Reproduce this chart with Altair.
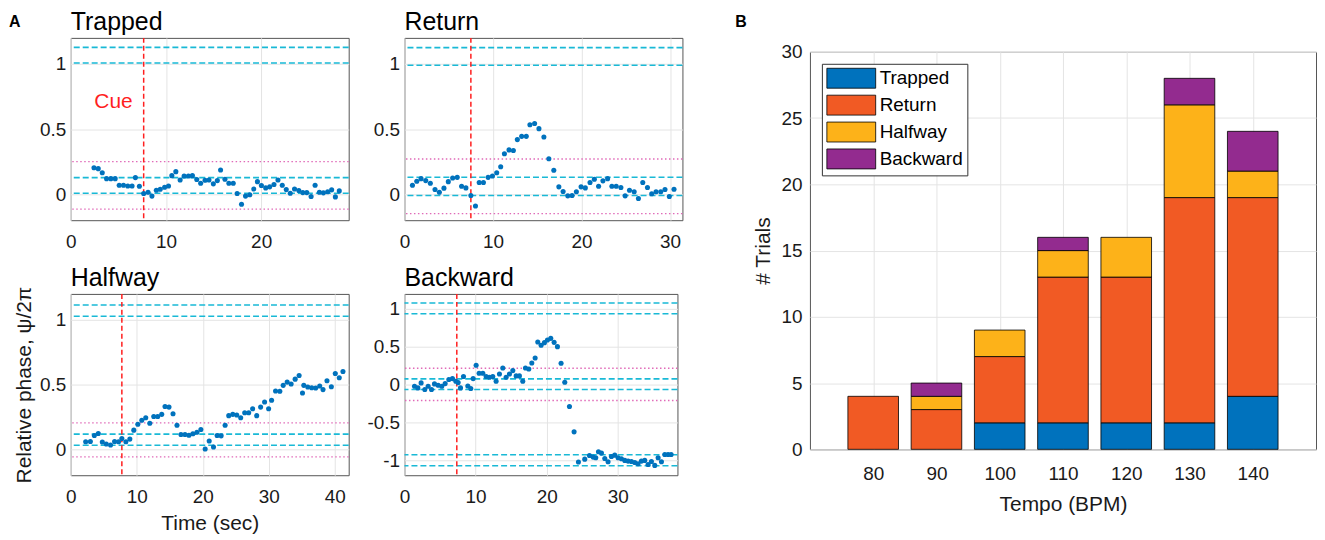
import altair as alt
import pandas as pd

FONT = "Liberation Sans"
BLUE = "#0072BD"
CYAN = "#19B9D6"
PINK = "#E06AB8"
RED = "#FF1F1F"
INK = "#1a1a1a"

# ---------------- Panel A data ----------------
trapped_t = [2.44, 2.89, 3.31, 3.76, 4.21, 4.67, 5.09, 5.54, 5.99, 6.44,
             6.79, 7.21, 7.66, 8.12, 8.53, 8.99, 9.40, 9.86, 10.27, 10.62,
             11.04, 11.49, 11.91, 12.36, 12.78, 13.24, 13.65, 14.11, 14.52, 14.98,
             15.40, 15.74, 16.20, 16.61, 17.07, 17.48, 17.94, 18.36, 18.81, 19.23,
             19.61, 20.03, 20.48, 20.90, 21.35, 21.77, 22.22, 22.64, 23.06, 23.51,
             23.96, 24.38, 24.80, 25.25, 25.67, 26.12, 26.54, 26.99, 27.41, 27.80,
             28.21]
trapped_p = [0.203, 0.196, 0.165, 0.119, 0.119, 0.119, 0.068, 0.068, 0.063, 0.063,
             0.127, 0.061, 0.005, 0.015, -0.015, 0.030, 0.038, 0.053, 0.063, 0.142,
             0.173, 0.109, 0.140, 0.140, 0.142, 0.112, 0.084, 0.107, 0.109, 0.079,
             0.104, 0.185, 0.114, 0.084, 0.084, 0.005, -0.077, -0.015, -0.005, 0.040,
             0.096, 0.066, 0.048, 0.056, 0.074, 0.109, 0.068, 0.035, 0.007, 0.040,
             0.028, 0.012, 0.012, -0.018, 0.068, 0.015, 0.010, 0.018, 0.033, -0.021,
             0.025]
trapped_cyan = [0.007, 0.127, 1.007, 1.127]
trapped_pink = [-0.115, 0.25]
trapped_cue = 7.66

return_t = [0.90, 1.39, 1.87, 2.40, 2.92, 3.45, 3.94, 4.46, 4.95, 5.44,
            5.96, 6.45, 6.94, 7.50, 8.02, 8.44, 8.92, 9.45, 9.94, 10.42,
            10.87, 11.29, 11.81, 12.30, 12.75, 13.24, 13.76, 14.17, 14.70, 15.19,
            15.75, 16.31, 16.87, 17.44, 17.92, 18.45, 18.93, 19.42, 19.95, 20.43,
            20.96, 21.45, 21.93, 22.42, 22.95, 23.43, 23.92, 24.45, 24.93, 25.42,
            25.95, 26.43, 26.92, 27.45, 27.93, 28.42, 28.95, 29.43, 29.92, 30.45]
return_p = [0.069, 0.099, 0.119, 0.104, 0.084, 0.036, 0.015, 0.046, 0.096, 0.124,
            0.129, 0.061, 0.048, -0.010, -0.091, 0.089, 0.089, 0.129, 0.140, 0.165,
            0.211, 0.310, 0.340, 0.335, 0.419, 0.444, 0.444, 0.533, 0.543, 0.503,
            0.439, 0.272, 0.183, 0.056, 0.020, -0.013, -0.010, 0.018, 0.056, 0.048,
            0.089, 0.114, 0.061, 0.102, 0.119, 0.061, 0.061, 0.051, -0.013, 0.030,
            0.018, -0.033, 0.089, 0.051, 0.003, 0.018, 0.018, 0.036, -0.018, 0.038]
return_cyan = [-0.01, 0.13, 0.99, 1.125]
return_pink = [-0.15, 0.27]
return_cue = 7.5

halfway_t = [2.26, 2.97, 3.57, 4.17, 4.78, 5.38, 6.03, 6.64, 7.24, 7.74,
             8.35, 8.95, 9.55, 10.16, 10.76, 11.36, 11.97, 12.57, 13.17, 13.78,
             14.28, 14.88, 15.49, 16.09, 16.69, 17.30, 17.90, 18.50, 19.11, 19.71,
             20.36, 20.97, 21.62, 22.17, 22.78, 23.38, 23.93, 24.54, 25.14, 25.74,
             26.35, 26.95, 27.55, 28.16, 28.76, 29.36, 29.97, 30.42, 31.02, 31.67,
             32.18, 32.78, 33.38, 33.99, 34.59, 35.10, 35.30, 35.90, 36.50, 37.10,
             37.71, 38.21, 38.81, 39.47, 40.07, 40.67, 41.23]
halfway_p = [0.059, 0.061, 0.107, 0.122, 0.056, 0.041, 0.033, 0.061, 0.059, 0.084,
             0.059, 0.079, 0.148, 0.193, 0.224, 0.244, 0.201, 0.254, 0.254, 0.270,
             0.331, 0.326, 0.275, 0.186, 0.115, 0.115, 0.109, 0.120, 0.132, 0.153,
             0.003, 0.064, 0.018, 0.107, 0.104, 0.186, 0.260, 0.270, 0.265, 0.244,
             0.282, 0.282, 0.313, 0.260, 0.326, 0.366, 0.313, 0.379, 0.450, 0.448,
             0.494, 0.519, 0.504, 0.542, 0.570, 0.435, 0.494, 0.481, 0.476, 0.473,
             0.489, 0.461, 0.529, 0.483, 0.585, 0.552, 0.601]
halfway_cyan = [0.031, 0.117, 1.028, 1.115]
halfway_pink = [-0.059, 0.204]
halfway_cue = 7.74

backward_t = [1.41, 1.88, 2.34, 2.86, 3.33, 3.80, 4.22, 4.74, 5.25, 5.72,
              6.24, 6.75, 7.22, 7.55, 7.88, 8.30, 8.91, 9.33, 9.66, 10.08,
              10.50, 11.02, 11.49, 11.96, 12.42, 12.89, 13.36, 13.83, 14.30, 14.77,
              15.24, 15.71, 16.17, 16.64, 17.02, 17.49, 17.91, 18.38, 18.75, 19.22,
              19.69, 20.11, 20.58, 21.05, 21.52, 22.03, 22.55, 23.21, 23.86, 24.47,
              25.36, 26.02, 26.54, 26.91, 27.29, 27.71, 28.18, 28.64, 29.11, 29.58,
              30.05, 30.52, 30.99, 31.46, 31.93, 32.40, 32.86, 33.33, 33.80, 34.27,
              34.74, 35.21, 35.68, 36.15, 36.62, 37.08, 37.51]
backward_p = [-0.022, -0.044, 0.022, -0.066, -0.022, -0.066, 0.009, -0.009, -0.022, 0.013,
              0.066, 0.079, 0.044, 0.026, -0.044, 0.106, -0.018, -0.053, 0.079, 0.256,
              0.150, 0.150, 0.106, 0.097, 0.106, 0.044, 0.141, 0.220, 0.097, 0.141,
              0.185, 0.115, 0.115, 0.044, 0.220, 0.207, 0.286, 0.352, 0.564, 0.520,
              0.555, 0.590, 0.612, 0.559, 0.502, 0.282, 0.031, -0.291, -0.626, -1.026,
              -0.987, -0.938, -0.960, -0.969, -0.890, -0.907, -0.978, -1.022, -0.952, -0.934,
              -0.969, -0.982, -1.004, -1.013, -1.018, -1.031, -1.048, -1.013, -1.004, -1.057,
              -1.018, -1.070, -0.969, -1.022, -0.925, -0.925, -0.925]
backward_cyan = [-1.075, -0.93, -0.066, 0.075, 0.938, 1.079]
backward_pink = [-0.211, 0.216]
backward_cue = 7.36

# ---------------- Panel B data ----------------
tempos = [80, 90, 100, 110, 120, 130, 140]
categories = ["Trapped", "Return", "Halfway", "Backward"]
cat_colors = ["#0072BD", "#F15A24", "#FDB219", "#932B8F"]
trapped_n = [0, 0, 2, 2, 2, 2, 4]
return_n = [4, 3, 5, 11, 11, 17, 15]
halfway_n = [0, 1, 2, 2, 3, 7, 2]
backward_n = [0, 1, 0, 1, 0, 2, 3]


def panel(name, t, p, xmax, width, height, ydom, yvals, cyan, pink, cue,
          xtitle=None, ytitle=None, letter=None, cue_label=False):
    xvals = [v for v in [0, 10, 20, 30, 40] if v <= xmax]
    xax = dict(values=xvals, labelPadding=12, labelFlush=False, grid=True)
    if xtitle:
        xax.update(title=xtitle, titlePadding=6)
    else:
        xax.update(title=None)
    yax = dict(values=yvals, labelPadding=5, grid=True,
               labelExpr="'' + datum.value")
    if ytitle:
        yax.update(title=ytitle, titlePadding=5)
    else:
        yax.update(title=None)
    X = alt.X("t:Q", scale=alt.Scale(domain=[0, xmax], nice=False, zero=False),
              axis=alt.Axis(**xax))
    Y = alt.Y("p:Q", scale=alt.Scale(domain=ydom, nice=False, zero=False),
              axis=alt.Axis(**yax))

    pts_df = pd.DataFrame({"t": t, "p": p})
    layers = [
        alt.Chart(pd.DataFrame({"p": pink}))
        .mark_rule(color=PINK, strokeDash=[1.5, 2.5], strokeWidth=1.3)
        .encode(y=Y),
        alt.Chart(pd.DataFrame({"p": cyan}))
        .mark_rule(color=CYAN, strokeDash=[6, 3], strokeWidth=1.6)
        .encode(y=Y),
        alt.Chart(pd.DataFrame({"t": [cue]}))
        .mark_rule(color=RED, strokeDash=[5, 3], strokeWidth=1.5)
        .encode(x=X),
        alt.Chart(pts_df).mark_circle(size=26, color=BLUE, opacity=1)
        .encode(x=X, y=Y),
        alt.Chart(pd.DataFrame({"lab": [name]}))
        .mark_text(align="left", baseline="alphabetic", fontSize=25,
                   font=FONT, color="black")
        .encode(text="lab:N", x=alt.value(0), y=alt.value(-8)),
    ]
    if cue_label:
        layers.append(alt.Chart(pd.DataFrame({"t": [cue], "p": [0.66], "lab": ["Cue"]}))
                      .mark_text(align="right", baseline="alphabetic", dx=-11,
                                 fontSize=21, font=FONT, color=RED)
                      .encode(x=X, y=Y, text="lab:N"))
    if letter:
        layers.append(alt.Chart(pd.DataFrame({"lab": [letter]}))
                      .mark_text(align="left", baseline="alphabetic", fontSize=16,
                                 fontWeight="bold", font=FONT, color="black")
                      .encode(text="lab:N", x=alt.value(-62), y=alt.value(-11)))
    return alt.layer(*layers).properties(width=width, height=height)


trapped = panel("Trapped", trapped_t, trapped_p, 29.2, 279, 183, [-0.2, 1.2],
                [0, 0.5, 1], trapped_cyan, trapped_pink, trapped_cue,
                letter="A", cue_label=True)
ret = panel("Return", return_t, return_p, 31.4, 279, 183, [-0.2, 1.2],
            [0, 0.5, 1], return_cyan, return_pink, return_cue)
half = panel("Halfway", halfway_t, halfway_p, 42.1, 279, 182, [-0.2, 1.2],
             [0, 0.5, 1], halfway_cyan, halfway_pink, halfway_cue,
             xtitle="Time (sec)", ytitle="Relative phase, ψ/2π")
back = panel("Backward", backward_t, backward_p, 38.4, 274, 182, [-1.2, 1.2],
             [-1, -0.5, 0, 0.5, 1], backward_cyan, backward_pink, backward_cue)

left = alt.concat(trapped, ret, half, back, columns=2, align="each",
                  spacing={"row": 13, "column": 15})

# ---------------- bar chart ----------------
rows = []
for i, tp in enumerate(tempos):
    for j, (c, arr) in enumerate(zip(categories,
                                     [trapped_n, return_n, halfway_n, backward_n])):
        rows.append({"tempo": tp, "cat": c, "n": arr[i], "order": j})
bar_df = pd.DataFrame(rows)

legend_path = "M-2.45,-1H2.45V1H-2.45Z"

bars = (alt.Chart(bar_df)
        .transform_filter("datum.n > 0")
        .transform_calculate(lo="datum.tempo - 4", hi="datum.tempo + 4")
        .transform_stack(stack="n", groupby=["tempo"],
                         sort=[alt.SortField("order", order="ascending")],
                         as_=["y0", "y1"])
        .mark_bar(stroke="black", strokeWidth=0.8, opacity=1)
        .encode(
            x=alt.X("lo:Q", scale=alt.Scale(domain=[70, 150], nice=False, zero=False),
                    axis=alt.Axis(values=tempos, title="Tempo (BPM)", labelPadding=15,
                                  titlePadding=10, labelFlush=False, grid=True)),
            x2="hi:Q",
            y=alt.Y("y0:Q", scale=alt.Scale(domain=[0, 30], nice=False, zero=False),
                    axis=alt.Axis(values=[0, 5, 10, 15, 20, 25, 30], title="# Trials",
                                  labelPadding=8, titlePadding=7, grid=True)),
            y2="y1:Q",
            color=alt.Color("cat:N",
                            scale=alt.Scale(domain=categories, range=cat_colors),
                            legend=alt.Legend(
                                title=None, orient="none", legendX=12, legendY=12,
                                symbolType=legend_path, symbolSize=400,
                                symbolOffset=15,
                                symbolStrokeColor="black", symbolStrokeWidth=0.8,
                                symbolOpacity=1, labelFont=FONT, labelFontSize=19,
                                labelColor="black", labelOffset=18,
                                strokeColor="#333", fillColor="white",
                                padding=4, rowPadding=2, offset=0)),
        )
        .properties(width=508, height=399))

spacer = (alt.Chart(pd.DataFrame({"lab": ["B"]}))
          .mark_text(align="left", baseline="alphabetic", fontSize=16,
                     fontWeight="bold", font=FONT, color="black")
          .encode(text="lab:N", x=alt.value(-75), y=alt.value(-11))
          .properties(width=508, height=1, view=alt.ViewBackground(strokeOpacity=0)))

right = alt.vconcat(spacer, bars, spacing=3).resolve_legend(color="independent")

chart = (alt.hconcat(left, right, spacing=51)
         .resolve_legend(color="independent")
         .properties(padding={"left": 0, "top": 0, "right": 0, "bottom": 0},
                     background="white")
         .configure_axis(labelFont=FONT, labelFontSize=19, labelColor=INK,
                         titleFont=FONT, titleFontSize=21, titleFontWeight="normal",
                         titleColor=INK, gridColor="#e4e4e4", gridWidth=1,
                         domain=False, ticks=False, tickSize=0)
         .configure_view(stroke="#555555", strokeWidth=1))

chart.save("out.html", embed_options={"renderer": "svg", "actions": False})
